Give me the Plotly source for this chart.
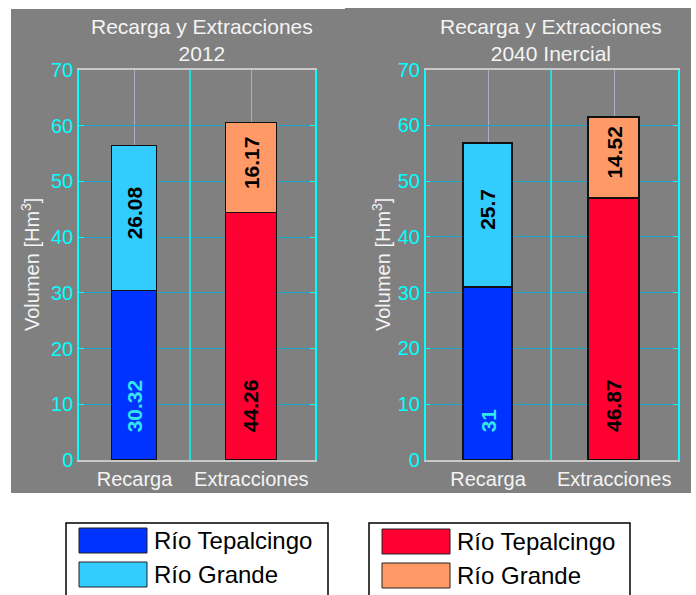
import plotly.graph_objects as go

# ---- data -------------------------------------------------------------
categories = ["Recarga", "Extracciones"]
series_names = ["Río Tepalcingo", "Río Grande"]
panel_titles = ["Recarga y Extracciones<br>2012", "Recarga y Extracciones<br>2040 Inercial"]
y_label = "Volumen [Hm<sup>3</sup>]"
y_ticks = [0, 10, 20, 30, 40, 50, 60, 70]

# per panel: [Recarga, Extracciones] for each river
tepalcingo_2012 = [30.32, 44.26]
grande_2012 = [26.08, 16.17]
tepalcingo_2040 = [31, 46.87]
grande_2040 = [25.7, 14.52]

# ---- styles -----------------------------------------------------------
FONT = "Liberation Sans, Arial, sans-serif"
GRAY = "#808080"
NAVY = "#0a2265"
CYAN = "#00ffff"
col_tepalcingo = ["#0033ff", "#ff0033"]   # recarga, extracciones
col_grande = ["#33ccff", "#ff9966"]
label_col_tepalcingo = ["#33e6ee", "#000000"]
label_col_grande = ["#000000", "#000000"]

W, H = 696, 595
def px(x):
    return x / W
def py(y):
    return 1 - y / H

panels = [
    dict(tep=tepalcingo_2012, gra=grande_2012, title=panel_titles[0],
         xdom=[px(79), px(314.5)], ydom=[py(460), py(70)],
         xrange=[0.525, 2.541], widths=[0.377, 0.437], mid=1.475,
         title_x=202, ylab_x=30, bg=[11, 9, 345, 493]),
    dict(tep=tepalcingo_2040, gra=grande_2040, title=panel_titles[1],
         xdom=[px(425.7), px(678)], ydom=[py(460), py(69.5)],
         xrange=[0.506, 2.506], widths=[0.389, 0.397], mid=1.5,
         title_x=551, ylab_x=381, bg=[345, 8, 691, 493]),
]

fig = go.Figure()
shapes = []
annotations = []
xpos = [1, 2]

for i, p in enumerate(panels):
    xa = "x" if i == 0 else "x2"
    ya = "y" if i == 0 else "y2"
    xkey = "xaxis" if i == 0 else "xaxis2"
    ykey = "yaxis" if i == 0 else "yaxis2"

    # gray panel background
    x0, y0, x1, y1 = p["bg"]
    shapes.append(dict(type="rect", xref="paper", yref="paper", layer="below",
                       x0=px(x0), x1=px(x1), y0=py(y1), y1=py(y0),
                       fillcolor=GRAY, line=dict(width=0)))

    fig.add_trace(go.Bar(x=xpos, y=p["tep"], width=p["widths"], name=series_names[0],
                         marker=dict(color=col_tepalcingo, line=dict(color="#111111", width=1.5)),
                         xaxis=xa, yaxis=ya, showlegend=False))
    fig.add_trace(go.Bar(x=xpos, y=p["gra"], width=p["widths"], name=series_names[1],
                         marker=dict(color=col_grande, line=dict(color="#111111", width=1.5)),
                         xaxis=xa, yaxis=ya, showlegend=False))

    fig.layout[xkey] = dict(domain=p["xdom"], range=p["xrange"], anchor=ya,
                            tickmode="array", tickvals=xpos, ticktext=categories,
                            tickfont=dict(family=FONT, size=20, color="#f4f4f4"),
                            ticklabelstandoff=0,
                            showgrid=True, gridcolor="#a8b0c8", gridwidth=1,
                            showline=True, linecolor="#c8c8c8", linewidth=1.5, mirror=True,
                            ticks="", zeroline=False, fixedrange=True, automargin=False)
    fig.layout[ykey] = dict(domain=p["ydom"], range=[0, 70], anchor=xa,
                            tickmode="array", tickvals=y_ticks,
                            tickfont=dict(family=FONT, size=20, color=CYAN),
                            showgrid=True, gridcolor="#1aa6c8", gridwidth=1,
                            showline=True, linecolor=CYAN, linewidth=1.5, mirror="ticks",
                            ticks="inside", ticklen=5, tickcolor=CYAN,
                            zeroline=False, fixedrange=True, automargin=False)

    # cyan divider between the two groups
    shapes.append(dict(type="line", xref=xa, yref=ya, x0=p["mid"], x1=p["mid"], y0=0, y1=70,
                       line=dict(color=CYAN, width=1.5)))

    # panel title
    annotations.append(dict(text=p["title"], xref="paper", yref="paper",
                            x=px(p["title_x"]), y=py(40.5), xanchor="center", yanchor="middle",
                            showarrow=False, align="center",
                            font=dict(family=FONT, size=21, color="#f4f4f4")))
    # y axis title
    annotations.append(dict(text=y_label, xref="paper", yref="paper",
                            x=px(p["ylab_x"]), y=py(265), xanchor="center", yanchor="middle",
                            textangle=-90, showarrow=False,
                            font=dict(family=FONT, size=20, color="#f4f4f4")))

    # value labels inside the stacked segments
    for j in range(2):
        annotations.append(dict(text=f"<b>{p['tep'][j]:g}</b>", xref=xa, yref=ya,
                                x=xpos[j], y=4.6, xanchor="center", yanchor="bottom",
                                textangle=-90, showarrow=False,
                                font=dict(family=FONT, size=21, color=label_col_tepalcingo[j])))
        annotations.append(dict(text=f"<b>{p['gra'][j]:g}</b>", xref=xa, yref=ya,
                                x=xpos[j], y=p["tep"][j] + p["gra"][j] / 2 + 1,
                                xanchor="center", yanchor="middle",
                                textangle=-90, showarrow=False,
                                font=dict(family=FONT, size=21, color=label_col_grande[j])))

# ---- legends (one per panel) -------------------------------------------
legend_boxes = [
    dict(box=[66, 523, 328, 600], sw_x=[79, 147], sw_y=[[528, 553], [562, 587]], tx=152,
         colors=[col_tepalcingo[0], col_grande[0]]),
    dict(box=[369, 523, 630, 600], sw_x=[382, 450], sw_y=[[529, 554], [563, 588]], tx=455,
         colors=[col_tepalcingo[1], col_grande[1]]),
]
for lg in legend_boxes:
    bx0, by0, bx1, by1 = lg["box"]
    shapes.append(dict(type="rect", xref="paper", yref="paper",
                       x0=px(bx0), x1=px(bx1), y0=py(by1), y1=py(by0),
                       fillcolor="white", line=dict(color="black", width=1.5)))
    for k in range(2):
        sy0, sy1 = lg["sw_y"][k]
        shapes.append(dict(type="rect", xref="paper", yref="paper",
                           x0=px(lg["sw_x"][0]), x1=px(lg["sw_x"][1]), y0=py(sy1), y1=py(sy0),
                           fillcolor=lg["colors"][k], line=dict(color="#222222", width=1)))
        annotations.append(dict(text=series_names[k], xref="paper", yref="paper",
                                x=px(lg["tx"]), y=py((sy0 + sy1) / 2), xanchor="left",
                                yanchor="middle", showarrow=False,
                                font=dict(family=FONT, size=24, color="black")))

fig.update_layout(
    width=W, height=H,
    margin=dict(l=0, r=0, t=0, b=0, autoexpand=False),
    paper_bgcolor="white",
    plot_bgcolor=NAVY,
    barmode="stack",
    bargap=0,
    showlegend=False,
    shapes=shapes,
    annotations=annotations,
)

fig.write_html("out.html", config={"displayModeBar": False})
